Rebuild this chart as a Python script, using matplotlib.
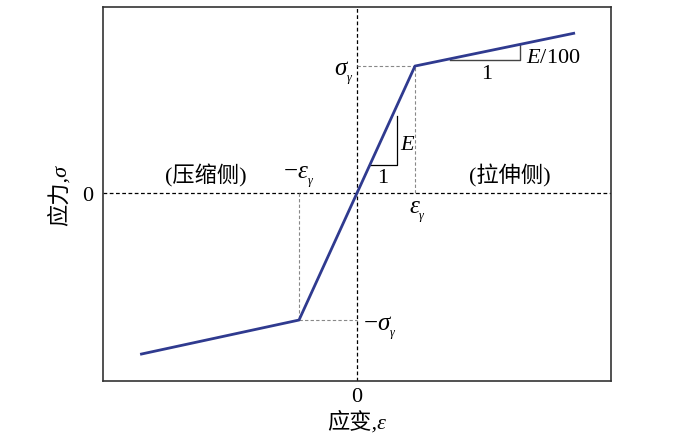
import matplotlib
matplotlib.use("Agg")
import matplotlib.pyplot as plt

plt.rcParams['font.family'] = ['Liberation Serif', 'Noto Sans CJK SC']
plt.rcParams['mathtext.fontset'] = 'custom'
plt.rcParams['mathtext.rm'] = 'Liberation Serif'
plt.rcParams['mathtext.it'] = 'Liberation Serif:italic'

# data (units: strain / eps_y, stress / sigma_y)
strain = [-3.74, -1.0, 0.0, 1.0, 3.76]
stress = [-1.27, -1.0, 0.0, 1.0, 1.26]
eps_y = 1.0
sig_y = 1.0
x_ticks = [0]
y_ticks = [0]
x_tick_labels = ['0']
y_tick_labels = ['0']

fig = plt.figure(figsize=(7.0, 4.39), dpi=100)
ax = fig.add_axes([103/700, 1-382/439, 508/700, 374/439])
ax.set_xlim(-4.38, 4.38)
ax.set_ylim(-1.48, 1.465)

fs = 16
fsc = 16
blue = '#2f3a8f'
gray = '#888888'

ax.axhline(0, color='black', lw=0.9, ls=(0, (3, 2)))
ax.axvline(0, color='black', lw=0.9, ls=(0, (3, 2)))

# guide lines
ax.plot([eps_y, eps_y], [0, sig_y], color=gray, lw=0.8, ls=(0, (3, 2)))
ax.plot([0, eps_y], [sig_y, sig_y], color=gray, lw=0.8, ls=(0, (3, 2)))
ax.plot([-eps_y, -eps_y], [0, -sig_y], color=gray, lw=0.8, ls=(0, (3, 2)))
ax.plot([-eps_y, 0], [-sig_y, -sig_y], color=gray, lw=0.8, ls=(0, (3, 2)))

ax.plot(strain, stress, color=blue, lw=2.0, solid_capstyle='butt', zorder=5)

# slope triangles
ax.plot([0.22, 0.69, 0.69], [0.22, 0.22, 0.61], color='black', lw=0.9)
ax.plot([1.60, 2.81, 2.81], [1.047, 1.047, 1.17], color='#444444', lw=1.0)

ax.text(0.45, 0.12, '1', fontsize=fs, ha='center', va='center')
ax.text(0.74, 0.38, '$E$', fontsize=fs, ha='left', va='center')
ax.text(2.24, 0.94, '1', fontsize=fs, ha='center', va='center')
ax.text(2.92, 1.07, '$E$/100', fontsize=fs, ha='left', va='center')

ax.text(-0.06, 0.95, r'$\sigma_{_\gamma}$', fontsize=fs+2, ha='right', va='center')
ax.text(1.05, -0.14, r'$\varepsilon_{_\gamma}$', fontsize=fs+2, ha='center', va='center')
ax.text(-1.0, 0.13, r'$-\varepsilon_{_\gamma}$', fontsize=fs+2, ha='center', va='center')
ax.text(0.1, -1.06, r'$-\sigma_{_\gamma}$', fontsize=fs+2, ha='left', va='center')

ax.text(-2.6, 0.14, '(压缩侧)', fontsize=fsc, ha='center', va='center')
ax.text(2.64, 0.14, '(拉伸侧)', fontsize=fsc, ha='center', va='center')

ax.set_xticks(x_ticks)
ax.set_xticklabels(x_tick_labels, fontsize=fs)
ax.set_yticks(y_ticks)
ax.set_yticklabels(y_tick_labels, fontsize=fs)
ax.tick_params(axis='x', length=0, pad=4)
ax.tick_params(axis='y', length=0, pad=7)
ax.set_xlabel('应变,ε', fontsize=fsc, style='italic', labelpad=3)
ax.set_ylabel('应力,σ', fontsize=fsc, style='italic', labelpad=8)

for s in ax.spines.values():
    s.set_color('#333333')
    s.set_linewidth(1.2)

fig.savefig('out.png', dpi=100)
